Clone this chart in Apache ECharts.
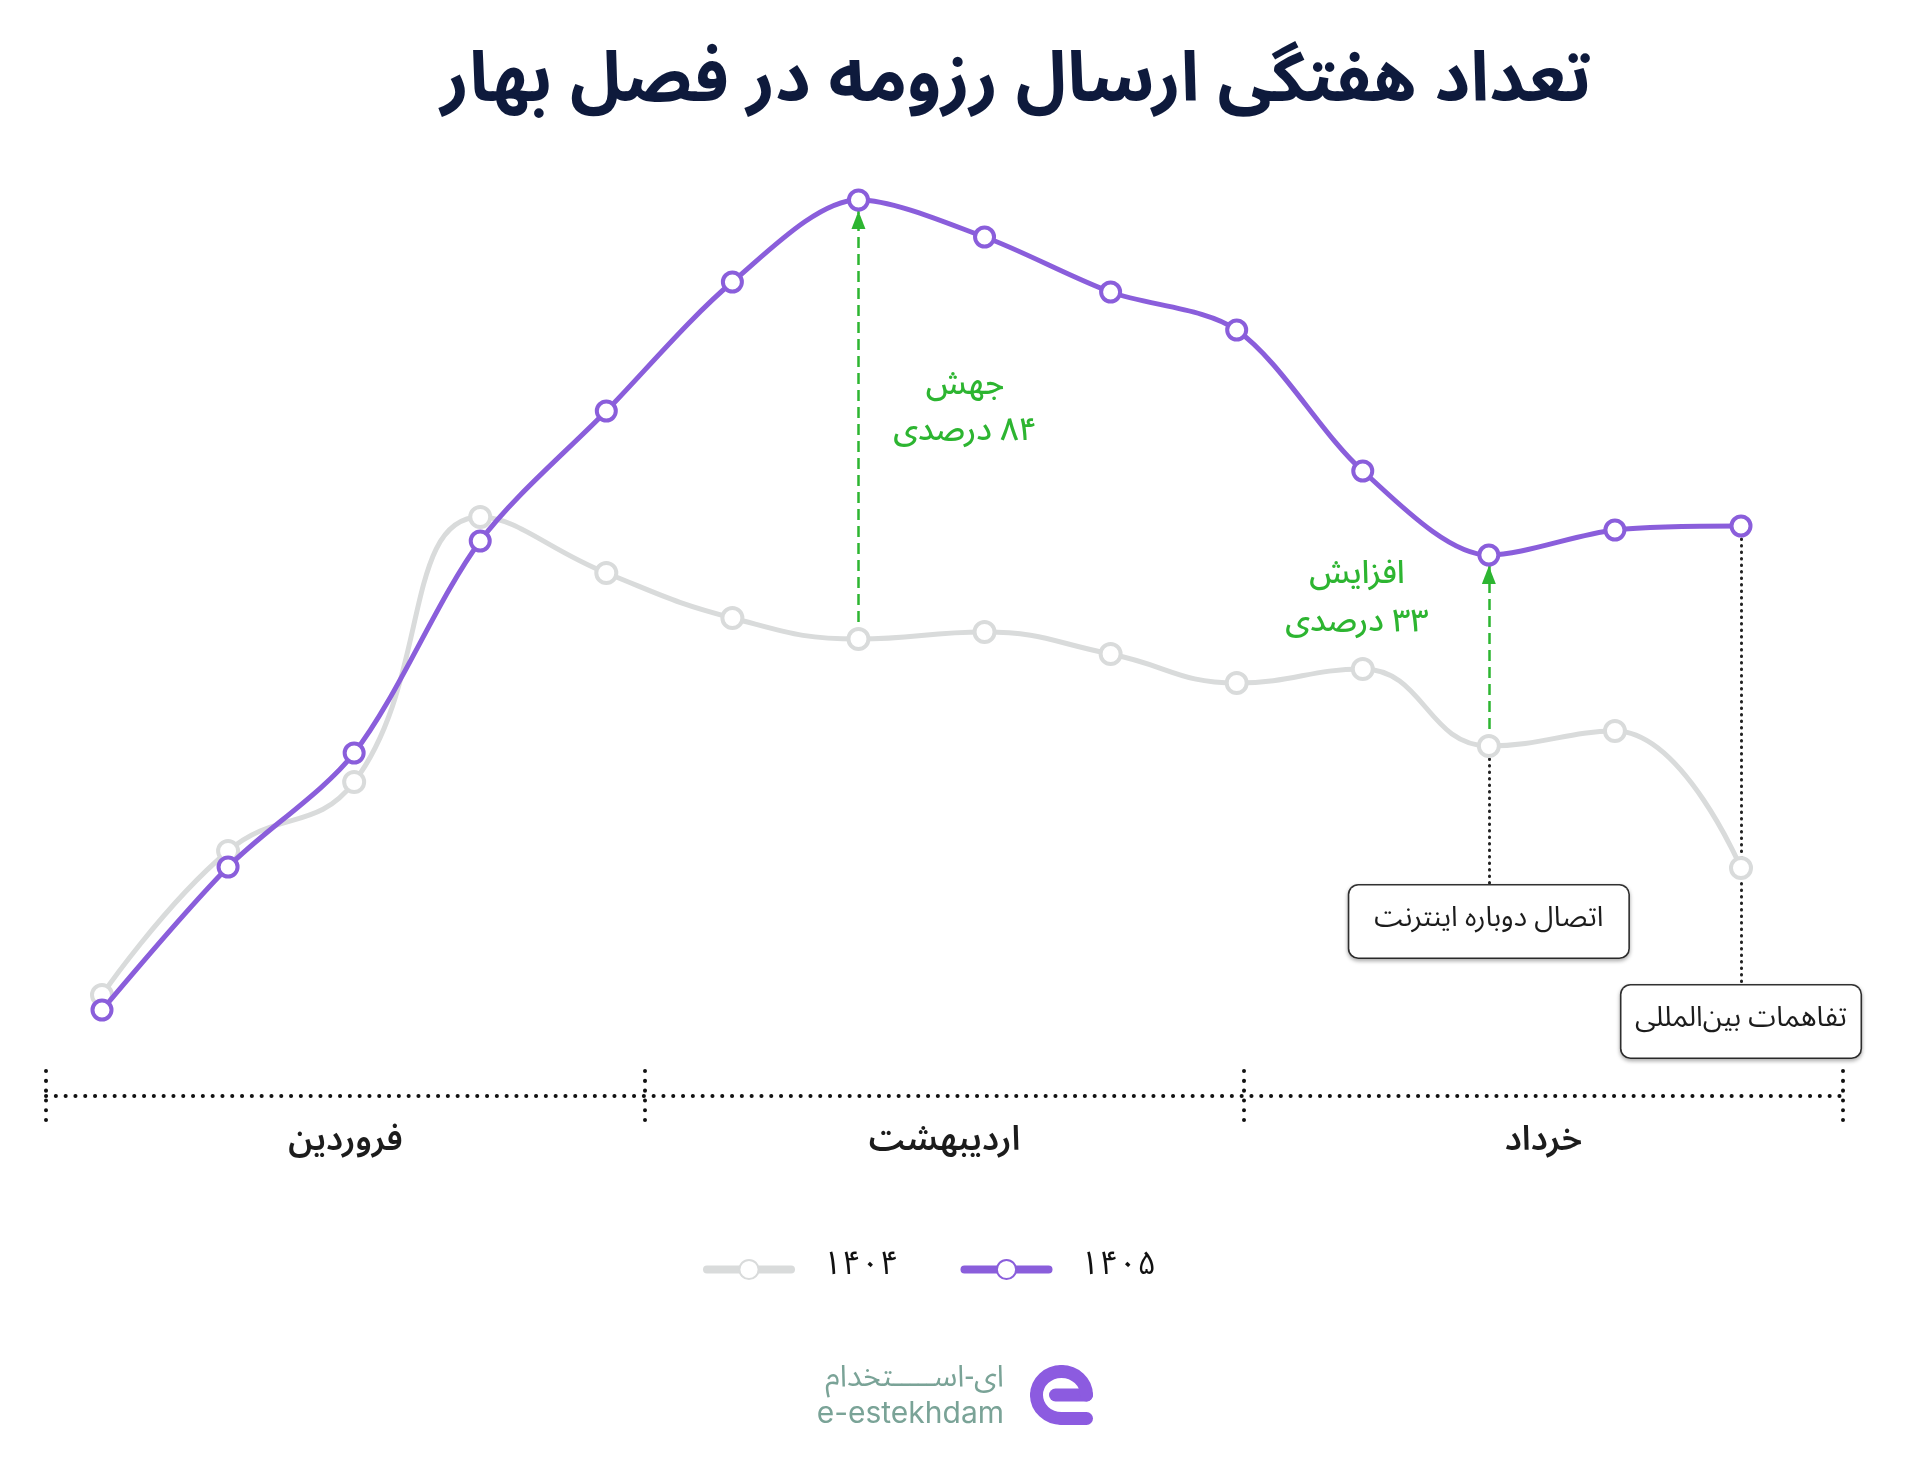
<!DOCTYPE html>
<html dir="rtl">
<head>
<meta charset="utf-8">
<script src="https://cdn.jsdelivr.net/npm/echarts@6/dist/echarts.min.js"></script>
<style>
  html, body { margin: 0; padding: 0; background: #ffffff; }
  #chart { width: 1920px; height: 1460px; }
</style>
</head>
<body>
<div id="chart"></div>
<script>
// ---- data ----
const weeks = ['هفته ۱','هفته ۲','هفته ۳','هفته ۴','هفته ۵','هفته ۶','هفته ۷','هفته ۸','هفته ۹','هفته ۱۰','هفته ۱۱','هفته ۱۲','هفته ۱۳','هفته ۱۴'];
const months = ['فروردین', 'اردیبهشت', 'خرداد'];
const seriesNames = ['۱۴۰۴', '۱۴۰۵'];
const values1404 = [1670, 3110, 3800, 6450, 5890, 5440, 5230, 5300, 5080, 4790, 4930, 4160, 4310, 2940];
const values1405 = [1520, 2950, 4090, 6210, 7510, 8800, 9620, 9250, 8700, 8320, 6910, 6070, 6320, 6360];
const jumpWeek = 6;        // week index of the 84% jump
const riseWeek = 11;       // week index of the 33% rise
const jumpText = 'جهش\n۸۴ درصدی';
const riseText = 'افزایش\n۳۳ درصدی';
const note1 = { week: 11, text: 'اتصال دوباره اینترنت', lineEnd: 2770, boxCenter: 2405 };
const note2 = { week: 13, text: 'تفاهمات بین‌المللی', lineEnd: 1770, boxCenter: 1405 };
const titleText = 'تعداد هفتگی ارسال رزومه در فصل بهار';
const logoFa = 'ای-اســـــتخدام';
const logoEn = 'e-estekhdam';

// ---- styles ----
const FONT = '"Noto Sans Arabic", Vazirmatn, "DejaVu Sans", sans-serif';
const PURPLE = '#8A5EDB';
const GRAY = '#D9DBDB';
const GREEN = '#2DB531';
const DARK = '#1c1c1c';
const LOGO = '#8C5BE0';

const chart = echarts.init(document.getElementById('chart'), null, { renderer: 'canvas' });

// logo "e" mark pieces (decorative)
const lx = 1061.5, ly = 1395, rx = 25, ry = 23.5, k = 0.5523;
const logoStyle = { stroke: LOGO, lineWidth: 13, lineCap: 'round', lineJoin: 'round', fill: 'none' };
const logoParts = [
  { type: 'line', silent: true, shape: { x1: lx - 6, y1: ly, x2: lx + rx, y2: ly }, style: logoStyle },
  { type: 'bezierCurve', silent: true, shape: { x1: lx + rx, y1: ly, cpx1: lx + rx, cpy1: ly - k * ry, cpx2: lx + k * rx, cpy2: ly - ry, x2: lx, y2: ly - ry }, style: logoStyle },
  { type: 'bezierCurve', silent: true, shape: { x1: lx, y1: ly - ry, cpx1: lx - k * rx, cpy1: ly - ry, cpx2: lx - rx, cpy2: ly - k * ry, x2: lx - rx, y2: ly }, style: logoStyle },
  { type: 'bezierCurve', silent: true, shape: { x1: lx - rx, y1: ly, cpx1: lx - rx, cpy1: ly + k * ry, cpx2: lx - k * rx, cpy2: ly + ry, x2: lx, y2: ly + ry }, style: logoStyle },
  { type: 'line', silent: true, shape: { x1: lx, y1: ly + ry, x2: lx + rx, y2: ly + ry }, style: logoStyle }
];

const boxLabel = (text, w) => ({
  show: true, position: 'inside', formatter: text, fontSize: 28, color: DARK, fontFamily: FONT,
  width: w, align: 'center', lineHeight: 36, padding: [18, 16],
  backgroundColor: '#fff', borderColor: '#333', borderWidth: 1.6, borderRadius: 9,
  shadowColor: 'rgba(0,0,0,0.28)', shadowBlur: 4, shadowOffsetY: 2
});

const option = {
  backgroundColor: '#ffffff',
  animation: false,
  textStyle: { fontFamily: FONT },
  grid: [
    { left: 102, right: 179, top: 162, bottom: 298 },
    { left: 46, right: 77, top: 1071, bottom: 340 }
  ],
  xAxis: [
    { type: 'category', gridIndex: 0, data: weeks, boundaryGap: false, show: false },
    {
      type: 'category', gridIndex: 1, data: months, boundaryGap: true,
      axisLine: { show: true, onZero: true, lineStyle: { color: '#111', width: 4, type: [0.1, 9.7], cap: 'round' } },
      axisTick: { show: false },
      splitLine: { show: true, showMinLine: true, showMaxLine: true, lineStyle: { color: '#111', width: 4, type: [0.1, 9.7], cap: 'round' } },
      axisLabel: { show: true, margin: 8, fontSize: 34, fontWeight: 600, color: DARK, fontFamily: FONT }
    }
  ],
  yAxis: [
    { type: 'value', gridIndex: 0, min: 0, max: 10000, show: false },
    { type: 'value', gridIndex: 1, min: -1, max: 1, show: false }
  ],
  legend: {
    data: seriesNames,
    left: 698, top: 1248,
    itemWidth: 84, itemHeight: 24, itemGap: 62,
    lineStyle: { width: 8, cap: 'round' },
    textStyle: { fontSize: 33, color: '#111', fontFamily: FONT, padding: [8, 0, 0, 27] }
  },
  series: [
    {
      name: seriesNames[0], type: 'line', xAxisIndex: 0, yAxisIndex: 0,
      data: values1404, smooth: 0.45, z: 10,
      symbol: 'circle', symbolSize: 20,
      lineStyle: { color: GRAY, width: 5 },
      itemStyle: { color: '#ffffff', borderColor: GRAY, borderWidth: 4 }
    },
    {
      name: seriesNames[1], type: 'line', xAxisIndex: 0, yAxisIndex: 0,
      data: values1405, smooth: 0.3, z: 11,
      symbol: 'circle', symbolSize: 19,
      lineStyle: { color: PURPLE, width: 5 },
      itemStyle: { color: '#ffffff', borderColor: PURPLE, borderWidth: 4 }
    },
    {
      type: 'line', xAxisIndex: 0, yAxisIndex: 0, data: [], z: 1, silent: true,
      markLine: {
        silent: true, symbol: ['none', 'none'], label: { show: false },
        data: [
          [{ coord: [jumpWeek, values1404[jumpWeek]], lineStyle: { color: GREEN, width: 2.5, type: [11, 6] } },
           { coord: [jumpWeek, values1405[jumpWeek]] }],
          [{ coord: [riseWeek, values1404[riseWeek]], lineStyle: { color: GREEN, width: 2.5, type: [11, 6] } },
           { coord: [riseWeek, values1405[riseWeek]] }],
          [{ coord: [note1.week, values1404[note1.week]], lineStyle: { color: '#222', width: 3, type: [0.5, 6], cap: 'round' } },
           { coord: [note1.week, note1.lineEnd] }],
          [{ coord: [note2.week, values1405[note2.week]], lineStyle: { color: '#222', width: 3, type: [0.5, 6], cap: 'round' } },
           { coord: [note2.week, note2.lineEnd] }]
        ]
      },
      markPoint: {
        silent: true,
        data: [
          { coord: [jumpWeek, values1405[jumpWeek]], symbol: 'triangle', symbolSize: [14, 18], symbolOffset: [0, 20],
            itemStyle: { color: GREEN }, label: { show: false } },
          { coord: [riseWeek, values1405[riseWeek]], symbol: 'triangle', symbolSize: [14, 18], symbolOffset: [0, 20],
            itemStyle: { color: GREEN }, label: { show: false } },
          { coord: [note1.week, note1.boxCenter], symbol: 'rect', symbolSize: 1, itemStyle: { color: 'rgba(0,0,0,0)' },
            label: boxLabel(note1.text, 247) },
          { coord: [note2.week, note2.boxCenter], symbol: 'rect', symbolSize: 1, itemStyle: { color: 'rgba(0,0,0,0)' },
            label: boxLabel(note2.text, 207) }
        ]
      }
    }
  ],
  graphic: [
    { type: 'text', silent: true, style: { text: titleText, x: 1016, y: 91, align: 'center', verticalAlign: 'middle',
      fontSize: 69, fontWeight: 'bold', fontFamily: FONT, fill: '#0E1A3C' } },
    { type: 'text', silent: true, style: { text: jumpText, x: 965, y: 412, align: 'center', verticalAlign: 'middle',
      fontSize: 32, fontWeight: 500, lineHeight: 46, fontFamily: FONT, fill: GREEN } },
    { type: 'text', silent: true, style: { text: riseText, x: 1357, y: 602, align: 'center', verticalAlign: 'middle',
      fontSize: 32, fontWeight: 500, lineHeight: 48, fontFamily: FONT, fill: GREEN } },
    { type: 'text', silent: true, style: { text: logoFa, x: 1004, y: 1381, align: 'right', verticalAlign: 'middle',
      fontSize: 30, fontFamily: FONT, fill: '#7AA397' } },
    { type: 'text', silent: true, style: { text: logoEn, x: 1004, y: 1414, align: 'right', verticalAlign: 'middle',
      fontSize: 30, fontFamily: 'Inter, Lato, sans-serif', fill: '#7AA397' } }
  ].concat(logoParts)
};

chart.setOption(option);
</script>
</body>
</html>
